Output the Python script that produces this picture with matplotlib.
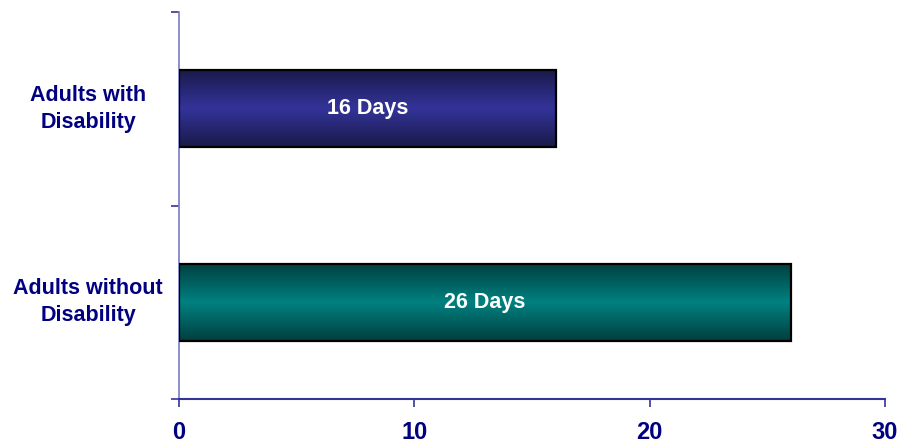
import matplotlib
matplotlib.use("Agg")
import matplotlib.pyplot as plt
import numpy as np
from matplotlib.colors import LinearSegmentedColormap
from matplotlib.transforms import blended_transform_factory

categories = ["Adults with\nDisability", "Adults without\nDisability"]
values = [16, 26]
bar_labels = ["16 Days", "26 Days"]
mid_colors = ["#333399", "#008080"]
edge_colors = ["#1a1a4a", "#003f3f"]
x_ticks = [0, 10, 20, 30]

plt.rcParams['font.family'] = ['Liberation Sans', 'DejaVu Sans']

fig = plt.figure(figsize=(9.02, 4.43), dpi=100)
ax = fig.add_axes([179/902, 1-399/443, (885-179)/902, (399-12)/443])

ypos = np.arange(len(categories))
height = 0.40
bars = ax.barh(ypos, values, height=height, color="none", edgecolor="black", linewidth=1.6, zorder=3)

grad = np.concatenate([np.linspace(0, 1, 50), np.linspace(1, 0, 50)])[:, None]
for bar, mc, ec, lab in zip(bars, mid_colors, edge_colors, bar_labels):
    cmap = LinearSegmentedColormap.from_list("g", [ec, mc])
    x0, y0 = bar.get_x(), bar.get_y()
    w, h = bar.get_width(), bar.get_height()
    im = ax.imshow(grad, extent=[x0, x0 + w, y0, y0 + h], aspect="auto", cmap=cmap,
                   origin="lower", zorder=2, interpolation="bicubic")
    im.set_clip_path(bar)
    ax.text(x0 + w / 2, y0 + h / 2, lab, ha="center", va="center", color="white",
            fontsize=15.5, fontweight="bold", zorder=4)

ax.set_xlim(0, 30)
ax.set_ylim(1.5, -0.5)
ax.set_xticks(x_ticks)
ax.set_xticklabels([str(t) for t in x_ticks], fontsize=17, fontweight="bold", color="#000080")
ax.set_yticks([-0.5, 0.5, 1.5])
ax.set_yticklabels([])
ax.tick_params(axis="x", direction="out", length=6, width=1.2, color="#333399", pad=10)
ax.tick_params(axis="y", direction="out", length=6, width=1.2, color="#333399")

trans = blended_transform_factory(fig.transFigure, ax.transData)
for i, c in enumerate(categories):
    ax.text(88/902, ypos[i], c, ha="center", va="center", fontsize=15.5, fontweight="bold",
            color="#000080", transform=trans, multialignment="center", linespacing=1.4)

for s in ["top", "right"]:
    ax.spines[s].set_visible(False)
ax.spines["left"].set_color("#7b7bbf")
ax.spines["left"].set_linewidth(1.2)
ax.spines["bottom"].set_color("#333399")
ax.spines["bottom"].set_linewidth(1.5)

fig.savefig("out.png", dpi=100)
